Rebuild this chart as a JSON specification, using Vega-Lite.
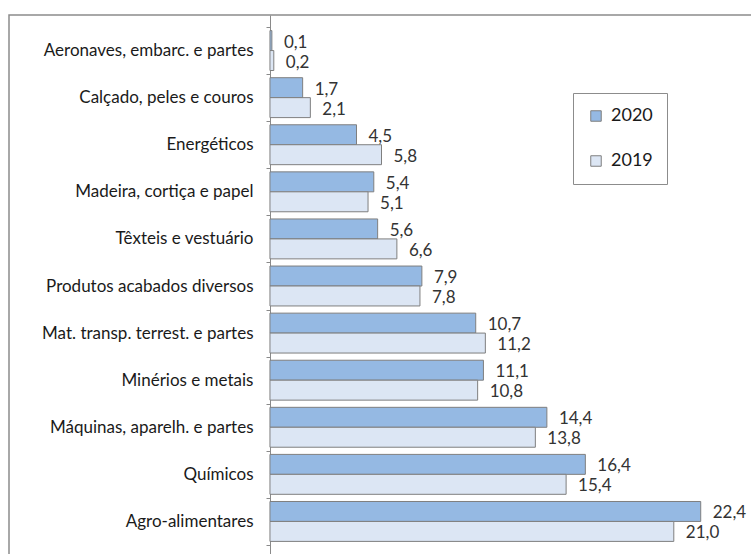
{
  "$schema": "https://vega.github.io/schema/vega-lite/v6.json",
  "autosize": {"type": "none"},
  "padding": {"left": 9, "top": 15, "right": 0, "bottom": 0},
  "width": 760,
  "height": 542,
  "background": "white",
  "config": {
    "locale": {"number": {"decimal": ",", "thousands": ".", "grouping": [3], "currency": ["", " €"]}},
    "view": {"stroke": "#8c8c8c", "strokeWidth": 1.5},
    "font": "Lato"
  },
  "data": {
    "values": [
      {"cat": "Aeronaves, embarc. e partes", "ano": "2020", "v": 0.1},
      {"cat": "Aeronaves, embarc. e partes", "ano": "2019", "v": 0.2},
      {"cat": "Calçado, peles e couros", "ano": "2020", "v": 1.7},
      {"cat": "Calçado, peles e couros", "ano": "2019", "v": 2.1},
      {"cat": "Energéticos", "ano": "2020", "v": 4.5},
      {"cat": "Energéticos", "ano": "2019", "v": 5.8},
      {"cat": "Madeira, cortiça e papel", "ano": "2020", "v": 5.4},
      {"cat": "Madeira, cortiça e papel", "ano": "2019", "v": 5.1},
      {"cat": "Têxteis e vestuário", "ano": "2020", "v": 5.6},
      {"cat": "Têxteis e vestuário", "ano": "2019", "v": 6.6},
      {"cat": "Produtos acabados diversos", "ano": "2020", "v": 7.9},
      {"cat": "Produtos acabados diversos", "ano": "2019", "v": 7.8},
      {"cat": "Mat. transp. terrest. e partes", "ano": "2020", "v": 10.7},
      {"cat": "Mat. transp. terrest. e partes", "ano": "2019", "v": 11.2},
      {"cat": "Minérios e metais", "ano": "2020", "v": 11.1},
      {"cat": "Minérios e metais", "ano": "2019", "v": 10.8},
      {"cat": "Máquinas, aparelh. e partes", "ano": "2020", "v": 14.4},
      {"cat": "Máquinas, aparelh. e partes", "ano": "2019", "v": 13.8},
      {"cat": "Químicos", "ano": "2020", "v": 16.4},
      {"cat": "Químicos", "ano": "2019", "v": 15.4},
      {"cat": "Agro-alimentares", "ano": "2020", "v": 22.4},
      {"cat": "Agro-alimentares", "ano": "2019", "v": 21.0}
    ]
  },
  "encoding": {
    "y": {
      "field": "cat",
      "type": "nominal",
      "sort": null,
      "scale": {"paddingInner": 0, "paddingOuter": 0.255},
      "axis": {
        "title": null,
        "offset": -261,
        "tickBand": "extent",
        "tickSize": 4,
        "tickColor": "#8a8a8a",
        "domainColor": "#8a8a8a",
        "labelPadding": 13,
        "labelFontSize": 17,
        "labelColor": "#1a1a1a",
        "labelLimit": 0
      }
    },
    "yOffset": {
      "field": "ano",
      "type": "nominal",
      "sort": ["2020", "2019"],
      "scale": {"paddingInner": 0, "paddingOuter": 0.18}
    },
    "x": {
      "field": "v",
      "type": "quantitative",
      "scale": {"domain": [-13.57, 25.95], "nice": false, "zero": false},
      "axis": null
    }
  },
  "layer": [
    {
      "mark": {"type": "bar", "stroke": "#7f7f7f", "strokeWidth": 1},
      "encoding": {
        "color": {
          "field": "ano",
          "type": "nominal",
          "scale": {"domain": ["2020", "2019"], "range": ["#95B9E3", "#DCE6F4"]},
          "legend": {
            "title": null,
            "orient": "none",
            "legendX": 564,
            "legendY": 78,
            "strokeColor": "#8c8c8c",
            "fillColor": "white",
            "padding": 14,
            "rowPadding": 27,
            "symbolType": "square",
            "symbolSize": 110,
            "symbolStrokeColor": "#7f7f7f",
            "symbolStrokeWidth": 1,
            "labelFontSize": 18,
            "labelColor": "#1a1a1a",
            "labelOffset": 6
          }
        }
      }
    },
    {
      "mark": {"type": "text", "align": "left", "baseline": "middle", "dx": 12, "dy": 2, "fontSize": 17, "color": "#333333"},
      "encoding": {
        "text": {"field": "v", "type": "quantitative", "format": ".1f"}
      }
    }
  ]
}
